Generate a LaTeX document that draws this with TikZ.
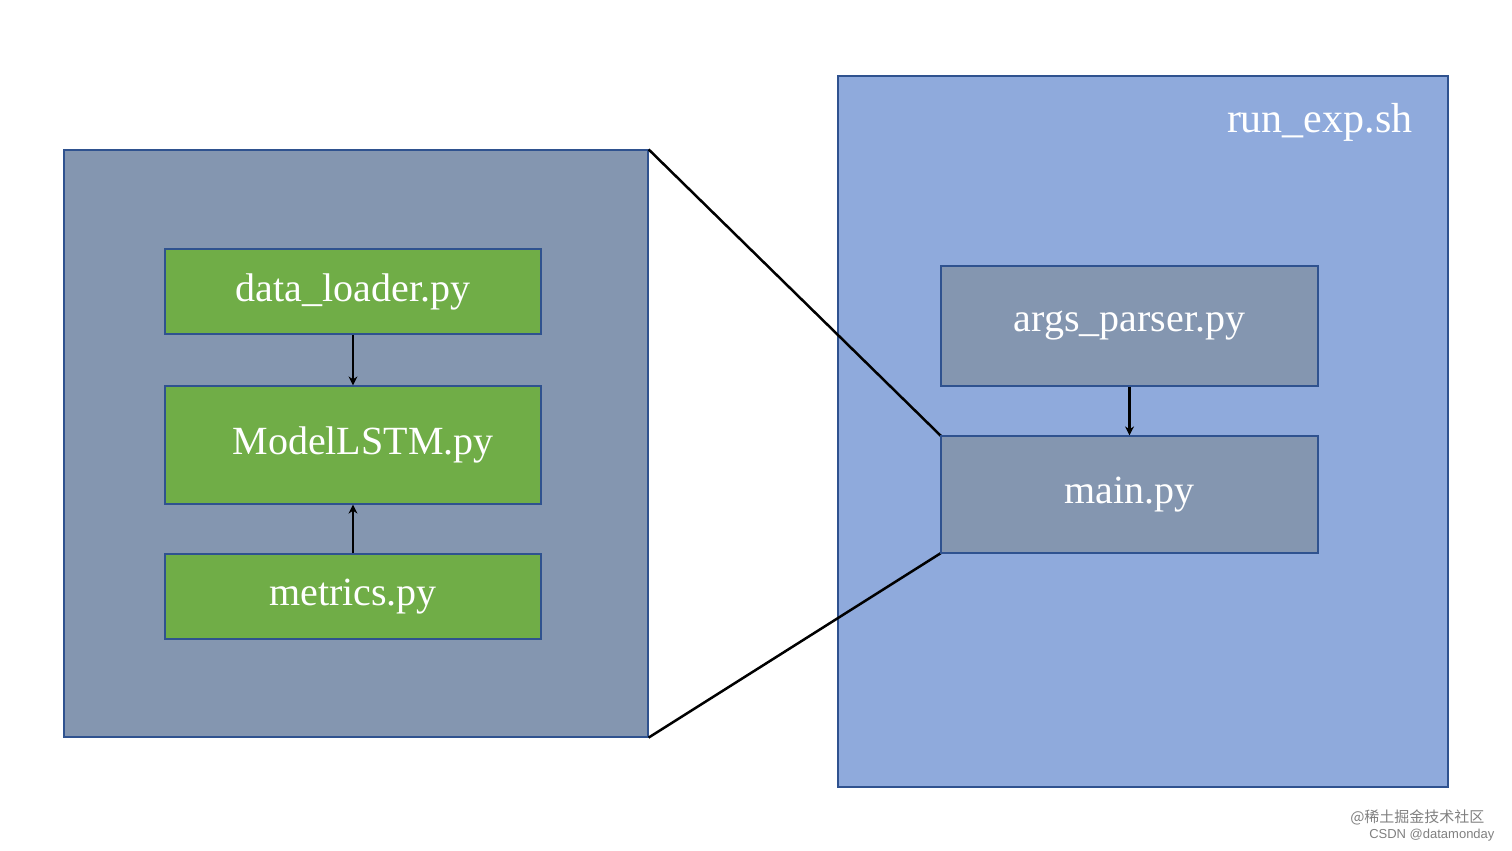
\documentclass[tikz,border=0pt]{standalone}
\usepackage{fontspec}
\setmainfont{Liberation Serif}
\newfontfamily\cjk{Noto Sans CJK SC}
\newfontfamily\sans{Liberation Sans}
\usetikzlibrary{arrows.meta}
\definecolor{leftfill}{HTML}{8496B0}
\definecolor{rightfill}{HTML}{8FAADC}
\definecolor{greenfill}{HTML}{70AD47}
\definecolor{edge}{HTML}{2F528F}
\begin{document}
\begin{tikzpicture}[x=1pt,y=-1pt,
  box/.style={draw=edge,line width=1.2pt,inner sep=0pt,anchor=center},
  file/.style={box,text=white,font=\fontsize{40}{48}\selectfont},
  arr/.style={line width=2.5pt,-{Stealth[length=9pt,width=9pt]}},
  link/.style={line width=2.5pt}]
\useasboundingbox (0,0) rectangle (1512,851);
\node[box,fill=leftfill,minimum width=584pt,minimum height=587pt] (left) at (356,443.5) {};
\node[box,fill=rightfill,minimum width=610pt,minimum height=711pt] (right) at (1143,431.5) {};
\node[text=white,font=\fontsize{42}{50}\selectfont,anchor=north east] (title) at (1416,100) {run\_exp.sh};
\node[file,fill=greenfill,minimum width=376pt,minimum height=85pt] (dl) at (353,291.5) {data\_loader.py};
\node[file,fill=greenfill,minimum width=376pt,minimum height=118pt] (lstm) at (353,445) {\hspace*{20pt}ModelLSTM.py};
\node[file,fill=greenfill,minimum width=376pt,minimum height=85pt] (met) at (353,596.5) {metrics.py};
\draw[link] (left.north east) -- (941,436) coordinate (mtl);
\draw[link] (left.south east) -- (941,553) coordinate (mbl);
\node[file,fill=leftfill,minimum width=377pt,minimum height=120pt] (args) at (1129.5,326) {args\_parser.py};
\node[file,fill=leftfill,minimum width=377pt,minimum height=117pt] (main) at (1129.5,494.5) {main.py};
\draw[arr] (dl) -- (lstm);
\draw[arr] (met) -- (lstm);
\draw[arr] (args) -- (main);
\node[anchor=east,text=gray,font=\cjk\fontsize{15}{18}\selectfont] (wm1) at (1488,817) {@稀土掘金技术社区};
\node[anchor=east,text=gray,font=\sans\fontsize{13}{16}\selectfont] (wm2) at (1498,835) {CSDN @datamonday};
\end{tikzpicture}
\end{document}
